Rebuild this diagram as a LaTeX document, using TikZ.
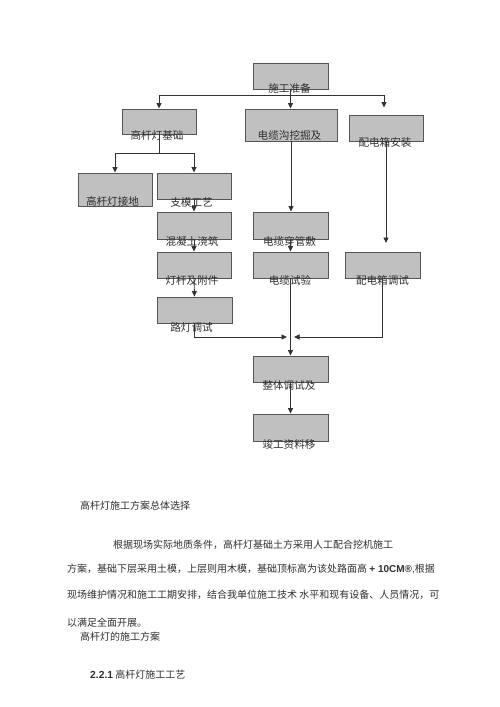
\documentclass[tikz,border=0pt]{standalone}
\usepackage{fontspec}
\setmainfont{Noto Sans CJK SC}
\newfontfamily\lat{Liberation Sans}
\usetikzlibrary{arrows.meta}
\definecolor{boxfill}{HTML}{C0C0C0}
\definecolor{boxline}{HTML}{555555}
\definecolor{conn}{HTML}{333333}
\definecolor{txt}{HTML}{2E2E2E}
\tikzset{
  stepbox/.style={draw=boxline, fill=boxfill, line width=0.9pt, inner sep=0pt, rectangle},
  lbl/.style={inner sep=0pt, text=txt, font=\fontsize{10.6}{12}\selectfont},
  body/.style={inner sep=0pt, anchor=west, text=txt, font=\fontsize{10}{12}\selectfont},
  ln/.style={draw=conn, line width=0.9pt},
  arr/.style={ln, -{Triangle[length=5.5pt,width=5pt]}}
}
\begin{document}
\begin{tikzpicture}[x=1pt,y=-1pt]
\useasboundingbox (0,0) rectangle (500,707);
% boxes
\node[stepbox, minimum width=75pt, minimum height=26pt] (prep) at (290.5,76) {};
\node[stepbox, minimum width=74pt, minimum height=25pt] (jichu) at (159,121.5) {};
\node[stepbox, minimum width=92pt, minimum height=32pt] (cable) at (291,125) {};
\node[stepbox, minimum width=74pt, minimum height=26pt] (box1) at (386,128) {};
\node[stepbox, minimum width=74pt, minimum height=33pt] (ground) at (115,189.5) {};
\node[stepbox, minimum width=74pt, minimum height=26pt] (mold) at (194,186) {};
\node[stepbox, minimum width=74pt, minimum height=27pt] (concrete) at (194,225.5) {};
\node[stepbox, minimum width=75pt, minimum height=27pt] (pipe) at (290.5,225.5) {};
\node[stepbox, minimum width=74pt, minimum height=26pt] (pole) at (194,265) {};
\node[stepbox, minimum width=75pt, minimum height=26pt] (test) at (290.5,265) {};
\node[stepbox, minimum width=75pt, minimum height=26pt] (boxtest) at (382.5,265) {};
\node[stepbox, minimum width=75pt, minimum height=26pt] (lamp) at (194.5,310) {};
\node[stepbox, minimum width=75pt, minimum height=26pt] (whole) at (290.5,369) {};
\node[stepbox, minimum width=75pt, minimum height=27pt] (done) at (290.5,427.5) {};
% labels
\node[lbl] (tprep) at (289.5,88.5) {施工准备};
\node[lbl] (tjichu) at (157,135.5) {高杆灯基础};
\node[lbl] (tcable) at (289.5,135.5) {电缆沟挖掘及};
\node[lbl] (tbox1) at (385,142.5) {配电箱安装};
\node[lbl] (tground) at (112.5,201.5) {高杆灯接地};
\node[lbl] (tmold) at (191.5,202) {支模工艺};
\node[lbl] (tconcrete) at (192,241) {混凝土浇筑};
\node[lbl] (tpipe) at (289.5,241) {电缆穿管敷};
\node[lbl] (tpole) at (192,280) {灯杆及附件};
\node[lbl] (ttest) at (290,280) {电缆试验};
\node[lbl] (tboxtest) at (382.5,280) {配电箱调试};
\node[lbl] (tlamp) at (191.5,327) {路灯调试};
\node[lbl] (twhole) at (289,385) {整体调试及};
\node[lbl] (tdone) at (289,444) {竣工资料移};
% connectors
\coordinate (bar) at (290.5,95);
\coordinate (b1top) at (384,107.5);
\draw[arr] (prep.south) -- (prep.south |- cable.north);
\draw[arr] (bar) -| (jichu.north);
\draw[arr] (bar) -| (b1top);
\coordinate (bar2) at (159,153);
\draw[ln] (jichu.south) -- (bar2);
\draw[arr] (bar2) -| (ground.north);
\draw[arr] (bar2) -| (mold.north);
\draw[arr] (mold.south) -- (concrete.north);
\draw[arr] (concrete.south) -- (pole.north);
\draw[arr] (pole.south) -- (lamp.south |- lamp.north);
\draw[arr] (cable.south) -- (cable.south |- pipe.north);
\draw[arr] (pipe.south) -- (test.north);
\draw[arr] (test.south) -- (whole.north);
\coordinate (b1end) at (386,243);
\draw[arr] (box1.south) -- (b1end);
\coordinate (m1) at (294,337);
\coordinate (m2) at (287,337);
\draw[arr] (boxtest.south) |- (m1);
\draw[arr] (pole.south |- lamp.south) |- (m2);
\draw[arr] (whole.south) -- (done.north);
% body text
\node[body] (p0) at (80,506) {高杆灯施工方案总体选择};
\node[body] (p1) at (113,545) {根据现场实际地质条件，高杆灯基础土方采用人工配合挖机施工};
\node[body] (p2) at (67,569) {方案，基础下层采用土模，上层则用木模，基础顶标高为该处路面高 {\lat\bfseries + 10CM®}{\lat ,}根据};
\node[body] (p3) at (67,595) {现场维护情况和施工工期安排，结合我单位施工技术 水平和现有设备、人员情况，可};
\node[body] (p4) at (67,623) {以满足全面开展。};
\node[body] (p5) at (80,637) {高杆灯的施工方案};
\node[body] (p6) at (90,675) {{\lat\bfseries\fontsize{10.3}{12}\selectfont 2.2.1} 高杆灯施工工艺};
\end{tikzpicture}
\end{document}
